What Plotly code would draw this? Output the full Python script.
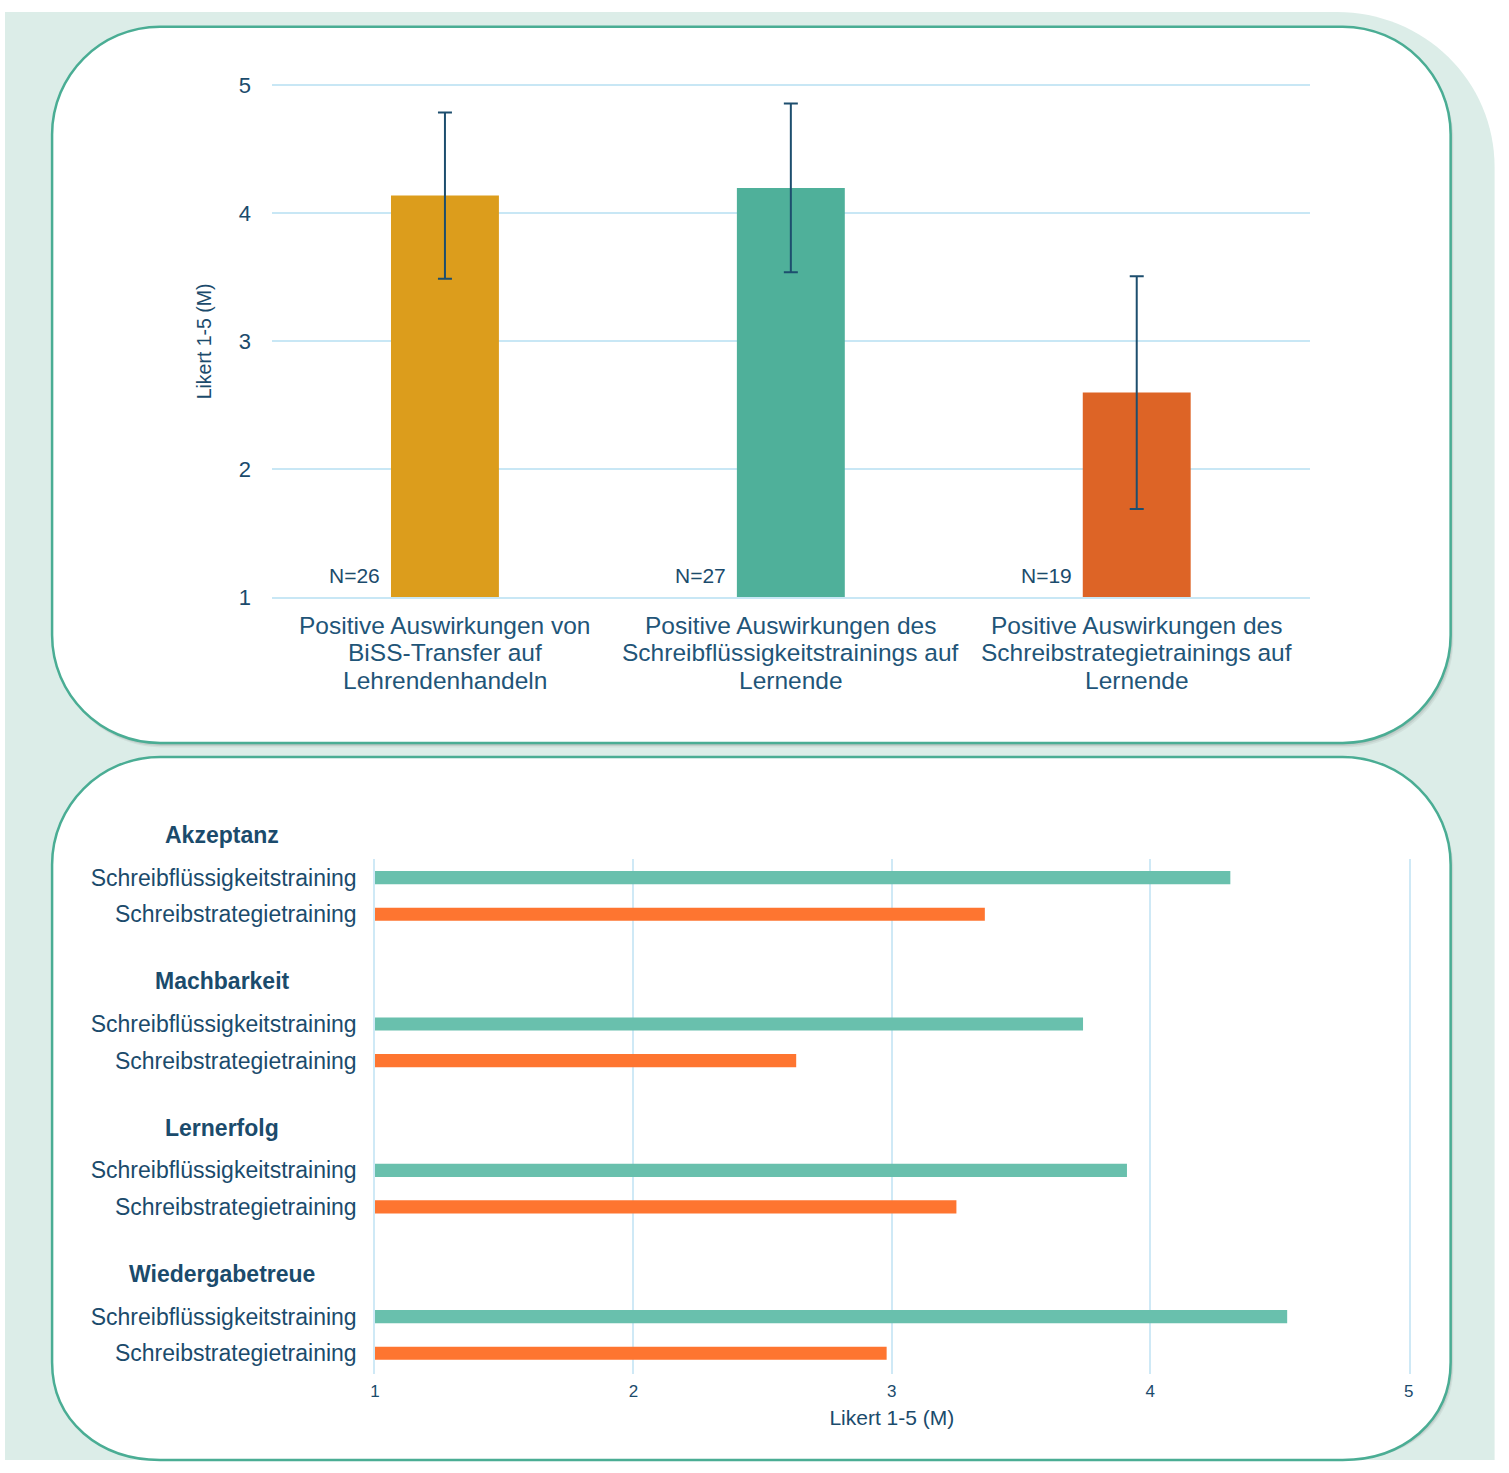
import plotly.graph_objects as go

# ---------------- data ----------------
top_categories = [
    "Positive Auswirkungen von<br>BiSS-Transfer auf<br>Lehrendenhandeln",
    "Positive Auswirkungen des<br>Schreibflüssigkeitstrainings auf<br>Lernende",
    "Positive Auswirkungen des<br>Schreibstrategietrainings auf<br>Lernende",
]
top_means = [4.14, 4.20, 2.60]
top_sd = [0.65, 0.66, 0.91]
top_n = ["N=26", "N=27", "N=19"]
top_colors = ["#dc9d1c", "#4fb09a", "#dd6426"]
top_yticks = [1, 2, 3, 4, 5]

groups = ["Akzeptanz", "Machbarkeit", "Lernerfolg", "Wiedergabetreue"]
series_names = ["Schreibflüssigkeitstraining", "Schreibstrategietraining"]
flu_values = [4.31, 3.74, 3.91, 4.53]
str_values = [3.36, 2.63, 3.25, 2.98]
bottom_xticks = [1, 2, 3, 4, 5]

# ---------------- geometry helpers ----------------
W, H = 1509, 1473
# the captured page is slightly larger than the figure; compensate so that the
# photographed positions line up with the target pixel positions
SX, OX = 0.9937, 4.9
SY, OY = 0.984, 10.3


def px(x):
    v = (x - OX) / SX
    return min(max(v, 0), W) / W


def py(y):
    v = (y - OY) / SY
    return 1 - min(max(v, 0), H) / H


def rr_path(x0, y0, x1, y1, tl, tr, br, bl):
    k = 0.5523
    P = lambda x, y: f"{px(x)},{py(y)}"
    s = [f"M{P(x0 + tl, y0)}", f"L{P(x1 - tr, y0)}"]
    if tr:
        s.append(f"C{P(x1 - tr + k * tr, y0)} {P(x1, y0 + tr - k * tr)} {P(x1, y0 + tr)}")
    s.append(f"L{P(x1, y1 - br)}")
    if br:
        s.append(f"C{P(x1, y1 - br + k * br)} {P(x1 - br + k * br, y1)} {P(x1 - br, y1)}")
    s.append(f"L{P(x0 + bl, y1)}")
    if bl:
        s.append(f"C{P(x0 + bl - k * bl, y1)} {P(x0, y1 - bl + k * bl)} {P(x0, y1 - bl)}")
    s.append(f"L{P(x0, y0 + tl)}")
    if tl:
        s.append(f"C{P(x0, y0 + tl - k * tl)} {P(x0 + tl - k * tl, y0)} {P(x0 + tl, y0)}")
    s.append("Z")
    return " ".join(s)


NAVY = "#1b4b6c"
LABEL = "#1f5578"
FONT = "Liberation Sans, Arial, Helvetica, sans-serif"
GRID_TOP = "#c8e7f5"
GRID_BOT = "#cfe9f6"

shapes = []
# mint background
shapes.append(dict(type="path", xref="paper", yref="paper", layer="below",
                   path=rr_path(0, 8, 1495, 1473, 0, 158, 0, 0),
                   fillcolor="#dcede8", line=dict(width=0)))
# panels with soft shadow
for (x0, y0, x1, y1) in [(52, 25, 1451, 742), (52, 756, 1451, 1470)]:
    for off, op in [(4.5, 0.07), (3, 0.10), (1.5, 0.12)]:
        shapes.append(dict(type="path", xref="paper", yref="paper", layer="below",
                           path=rr_path(x0 + off * 0.6, y0 + off, x1 + off * 0.6, y1 + off, 108, 108, 108, 108),
                           fillcolor=f"rgba(60,60,60,{op})", line=dict(width=0)))
    shapes.append(dict(type="path", xref="paper", yref="paper", layer="below",
                       path=rr_path(x0, y0, x1, y1, 108, 108, 108, 108),
                       fillcolor="white", line=dict(color="#4aad94", width=2.5)))

fig = go.Figure()

# ---------------- top chart ----------------
TOP_Y1, TOP_Y5 = 596, 84          # target pixel rows of y=1 and y=5
TOP_L, TOP_R = 272, 1310
top_range = [top_yticks[0], top_yticks[-1]]

fig.add_trace(go.Bar(
    x=top_categories, y=top_means,
    marker=dict(color=top_colors, line=dict(width=0)),
    width=0.312,
    error_y=dict(type="data", array=top_sd, visible=True, color="#1d4e6e", thickness=2, width=7),
    xaxis="x", yaxis="y", showlegend=False, hoverinfo="skip",
))

annotations = []
for cat, n in zip(top_categories, top_n):
    annotations.append(dict(x=cat, y=top_yticks[0], xref="x", yref="y", text=n, showarrow=False,
                            xanchor="right", yanchor="middle", xshift=-63, yshift=21 / SY,
                            font=dict(family=FONT, size=21, color=NAVY)))
    for li, line in enumerate(cat.split("<br>")):
        annotations.append(dict(x=cat, y=top_yticks[0], xref="x", yref="y", text=line, showarrow=False,
                                xanchor="center", yanchor="middle", yshift=-(27.5 + 27.2 * li) / SY,
                                font=dict(family=FONT, size=24.5, color=LABEL)))

# ---------------- bottom chart ----------------
row_keys, row_text, flu_keys, str_keys = [], [], [], []
for gi, g in enumerate(groups):
    if gi > 0:
        row_keys += [f"gap{gi}", f"hdr{gi}"]
        row_text += ["", ""]
    row_keys.append(f"{g}|flu"); row_text.append(series_names[0]); flu_keys.append(f"{g}|flu")
    row_keys.append(f"{g}|str"); row_text.append(series_names[1]); str_keys.append(f"{g}|str")

fig.add_trace(go.Bar(
    y=flu_keys, x=flu_values, orientation="h", width=0.36,
    marker=dict(color="#69c0ad", line=dict(width=0)),
    xaxis="x2", yaxis="y2", showlegend=False, name=series_names[0], hoverinfo="skip",
))
fig.add_trace(go.Bar(
    y=str_keys, x=str_values, orientation="h", width=0.36,
    marker=dict(color="#fe7530", line=dict(width=0)),
    xaxis="x2", yaxis="y2", showlegend=False, name=series_names[1], hoverinfo="skip",
))

for g, k in zip(groups, flu_keys):
    annotations.append(dict(x=px(222), y=k, xref="paper", yref="y2", text=f"<b>{g}</b>",
                            showarrow=False, xanchor="center", yanchor="middle", yshift=42 / SY,
                            font=dict(family=FONT, size=23, color=NAVY)))

BOT_X1, BOT_X5 = 375, 1409
BOT_T, BOT_B = 858.5, 1374
bot_range = [bottom_xticks[0], bottom_xticks[-1]]

fig.update_layout(
    width=W, height=H,
    margin=dict(l=0, r=0, t=0, b=0),
    paper_bgcolor="white",
    plot_bgcolor="rgba(0,0,0,0)",
    shapes=shapes,
    annotations=annotations,
    font=dict(family=FONT, color=NAVY),
    xaxis=dict(domain=[px(TOP_L), px(TOP_R)], anchor="y", showgrid=False, zeroline=False,
               showline=True, mirror=True, linecolor=GRID_TOP, linewidth=2,
               ticks="", showticklabels=False),
    yaxis=dict(domain=[py(TOP_Y1), py(TOP_Y5)], anchor="x",
               range=top_range, tickvals=top_yticks,
               showgrid=True, gridcolor=GRID_TOP, gridwidth=2, zeroline=False, showline=False,
               ticks="", ticklabelstandoff=20,
               tickfont=dict(family=FONT, size=22, color=NAVY),
               title=dict(text="Likert 1-5 (M)", standoff=21,
                          font=dict(family=FONT, size=19.5, color=NAVY))),
    xaxis2=dict(domain=[px(BOT_X1), px(BOT_X5)], anchor="y2",
                range=bot_range, tickvals=bottom_xticks,
                showgrid=True, gridcolor=GRID_BOT, gridwidth=1.5, zeroline=False, showline=False,
                ticks="", ticklabelstandoff=5,
                tickfont=dict(family=FONT, size=17, color=NAVY),
                title=dict(text="Likert 1-5 (M)", standoff=9,
                           font=dict(family=FONT, size=21, color=NAVY))),
    yaxis2=dict(domain=[py(BOT_B), py(BOT_T)], anchor="x2", type="category",
                categoryorder="array", categoryarray=row_keys, autorange="reversed",
                tickvals=row_keys, ticktext=row_text,
                showgrid=False, zeroline=False, showline=True, mirror=True,
                linecolor=GRID_BOT, linewidth=1.5,
                ticks="", ticklabelstandoff=12,
                tickfont=dict(family=FONT, size=23, color=NAVY)),
)

fig.write_html("out.html", config={"displayModeBar": False},
               post_script="document.body.style.margin='0px';")
